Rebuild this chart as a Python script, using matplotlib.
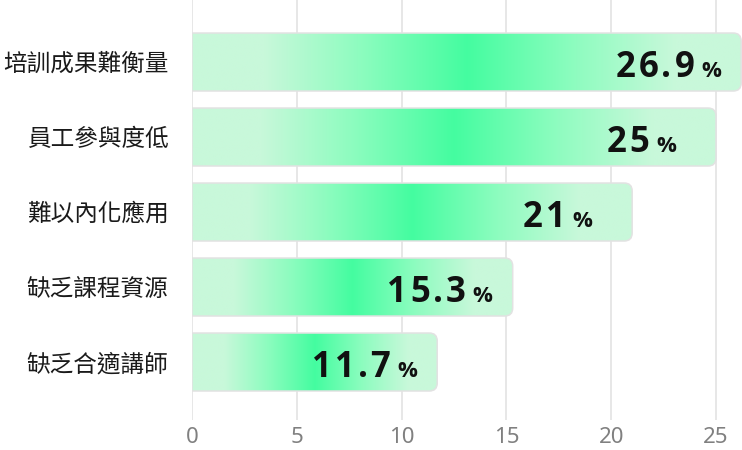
import matplotlib
matplotlib.use("Agg")
import matplotlib.pyplot as plt
import numpy as np
from matplotlib.path import Path
from matplotlib.patches import PathPatch
from matplotlib.colors import LinearSegmentedColormap

# data
categories = ["培訓成果難衡量", "員工參與度低", "難以內化應用", "缺乏課程資源", "缺乏合適講師"]
values = [26.9, 25, 21, 15.3, 11.7]
value_labels = ["26.9", "25", "21", "15.3", "11.7"]
xticks = [0, 5, 10, 15, 20, 25]

light = "#c8f8da"
bright = "#44fda0"
cmap = LinearSegmentedColormap.from_list(
    "bar", [(0.0, light), (0.13, light), (0.3, "#8ffcc0"), (0.5, bright),
            (0.7, "#8ffcc0"), (0.88, light), (1.0, light)])

fig = plt.figure(figsize=(7.42, 4.5), dpi=100)
ax = fig.add_axes([192 / 742, 30 / 450, 550 / 742, 420 / 450])
renderer = fig.canvas.get_renderer()

xmax = 550 / (524 / 25)
ax.set_xlim(0, xmax)
ax.set_ylim(4.773, -0.827)

# pixel scale -> data units for the rounded corner
px_x = 550 / xmax
px_y = 420 / 5.6
rx, ry = 8 / px_x, 8 / px_y
h = 58 / 75

grad = cmap(np.linspace(0, 1, 256))[None, :, :]

for i, v in enumerate(values):
    w = min(v, xmax - 0.04)
    y0, y1 = i - h / 2, i + h / 2
    verts = [(0, y0), (w - rx, y0), (w, y0), (w, y0 + ry), (w, y1 - ry),
             (w, y1), (w - rx, y1), (0, y1), (0, y0)]
    codes = [Path.MOVETO, Path.LINETO, Path.CURVE3, Path.CURVE3, Path.LINETO,
             Path.CURVE3, Path.CURVE3, Path.LINETO, Path.CLOSEPOLY]
    patch = PathPatch(Path(verts, codes), facecolor="none", edgecolor="#e2e2e2",
                      lw=1.1, zorder=3)
    ax.add_patch(patch)
    im = ax.imshow(grad, extent=[0, w, y1, y0], aspect="auto", zorder=2,
                   interpolation="bilinear")
    im.set_clip_path(patch)

    # value label: letter-spaced number + smaller percent sign
    lab = value_labels[i]
    xo = -20 if "." in lab else -40
    t = ax.annotate("%", (w, i), xytext=(xo, -15), textcoords="offset pixels",
                    ha="right", va="baseline", fontsize=16, fontweight="bold",
                    family="Open Sans", color="#111111", zorder=4)
    xo -= t.get_window_extent(renderer).width + 7
    for ch in reversed(lab):
        t = ax.annotate(ch, (w, i), xytext=(xo, -15), textcoords="offset pixels",
                        ha="right", va="baseline", fontsize=25, fontweight="bold",
                        family="Open Sans", color="#111111", zorder=4)
        xo -= t.get_window_extent(renderer).width + 3

ax.set_xlim(0, xmax)
ax.set_ylim(4.773, -0.827)

ax.set_xticks(xticks)
ax.set_yticks(range(len(categories)))
ax.set_yticklabels(categories, family=["Noto Sans CJK TC", "DejaVu Sans"],
                   fontsize=17, color="#1a1a1a")
for t in ax.get_xticklabels():
    t.set_family("Noto Sans")
ax.tick_params(axis="x", length=0, pad=5, labelsize=16, labelcolor="#808080")
ax.tick_params(axis="y", length=0, pad=17)
ax.grid(axis="x", color="#e0e0e0", lw=1.1)
ax.set_axisbelow(True)
for s in ax.spines.values():
    s.set_visible(False)

fig.savefig("out.png", dpi=100)
